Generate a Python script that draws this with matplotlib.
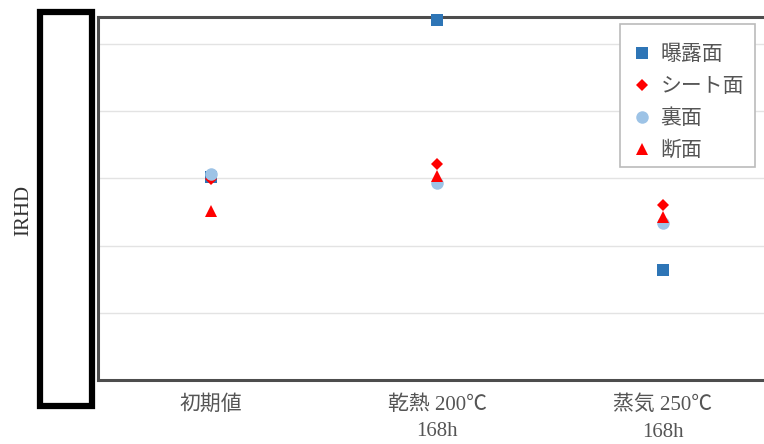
import matplotlib
matplotlib.use("Agg")
import matplotlib.pyplot as plt
from matplotlib.patches import Rectangle
from matplotlib.lines import Line2D

categories = ["初期値", "乾熱 200℃\n168h", "蒸気 250℃\n168h"]
series_names = ["曝露面", "シート面", "裏面", "断面"]
exposed = [70.15, 93.6, 56.4]
sheet = [69.85, 72.1, 66.0]
back = [70.6, 69.25, 63.4]
section = [65.1, 70.3, 64.3]
y_ticks = [40, 50, 60, 70, 80, 90]

fam = ["Liberation Serif", "Noto Sans CJK JP", "DejaVu Sans"]
txtcol = "#555555"

fig = plt.figure(figsize=(7.64, 4.44), dpi=100)
ax = fig.add_axes([98/764, 64/444, 678/764, 363/444])

x = list(range(len(categories)))
styles = [
    (exposed, "s", "#2E75B6", 8),
    (sheet, "D", "#FF0000", 6.5),
    (back, "o", "#9DC3E6", 9),
    (section, "^", "#FF0000", 9),
]
handles = []
for i, (vals, m, c, ms) in enumerate(styles):
    ax.plot(x, vals, linestyle="none", marker=m, color=c, markersize=ms,
            markeredgewidth=0, zorder=3 + i, clip_on=False)
    handles.append(Line2D([], [], linestyle="none", marker=m, color=c,
                          markersize=ms, markeredgewidth=0))

ax.set_xlim(-0.5, 2.5)
ax.set_ylim(40, 94.03)
ax.set_yticks(y_ticks)
ax.set_yticklabels([])
ax.tick_params(axis="y", length=0)
ax.set_xticks(x)
ax.set_xticklabels(categories, family=fam, fontsize=15, color=txtcol,
                   linespacing=1.55)
ax.tick_params(axis="x", length=0, pad=11)
ax.grid(axis="y", color="#E3E3E3", linewidth=1)
ax.set_axisbelow(True)
for s in ["left", "top", "bottom"]:
    ax.spines[s].set_color("#4D4D4D")
    ax.spines[s].set_linewidth(2.2)
ax.spines["right"].set_visible(False)

# legend frame box
fig.add_artist(Rectangle((620/764, 1 - 167/444), 135/764, 143/444,
                         transform=fig.transFigure, facecolor="white",
                         edgecolor="#BBBBBB", linewidth=1.2, zorder=9))
leg = fig.legend(handles, series_names, loc="upper left",
                 bbox_to_anchor=(620/764, 1 - 36/444),
                 borderaxespad=0,
                 prop={"family": fam, "size": 15}, labelcolor=txtcol,
                 frameon=False,
                 handlelength=1.2, handletextpad=0.3, labelspacing=0.6,
                 borderpad=0.45)
leg.set_zorder(10)

fig.add_artist(Rectangle((40/764, 1 - 406/444), 52/764, 394/444,
                         transform=fig.transFigure, fill=False,
                         edgecolor="black", linewidth=4.5))
fig.text(24/764, 1 - 210/444, "IRHD", rotation=90, ha="center", va="center",
         family=fam, fontsize=15, color="#333333")

fig.savefig("out.png", dpi=100)
